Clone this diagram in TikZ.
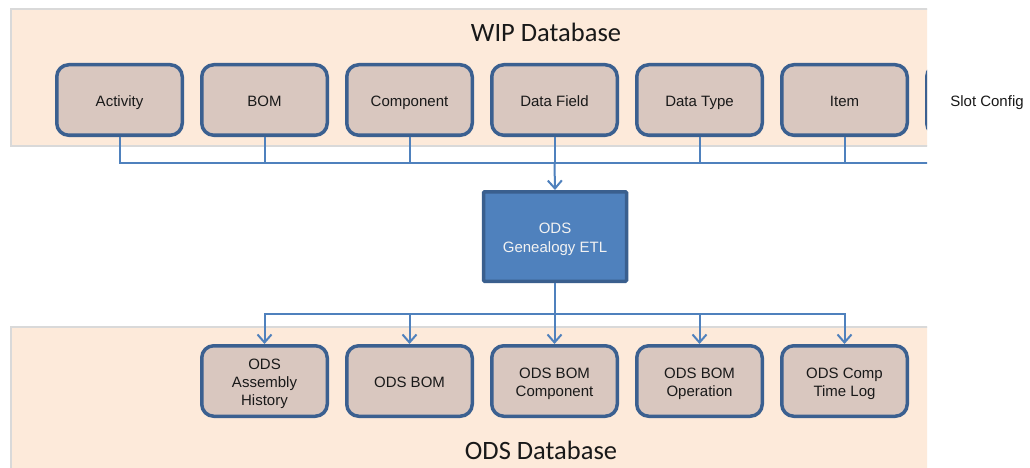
\documentclass[tikz,border=0pt]{standalone}
\usepackage{fontspec}
\setmainfont{Liberation Sans}
\newfontfamily\titlefont{Carlito}
\usetikzlibrary{arrows.meta}
\definecolor{panelfill}{HTML}{FDEADA}
\definecolor{panelline}{HTML}{D9D9D9}
\definecolor{boxfill}{HTML}{D9C7BF}
\definecolor{boxline}{HTML}{3B6090}
\definecolor{conncol}{HTML}{4F81BD}
\definecolor{etlfill}{HTML}{4F81BD}
\definecolor{etlline}{HTML}{3A5F8E}
\definecolor{etltext}{HTML}{F2F2F2}
\newcommand\mytopstrut{\rule{0pt}{16.5pt}}
\newcommand\mybotstrut{\rule[-3.5pt]{0pt}{3.5pt}}
\tikzset{
  struts/.style={execute at begin node={\mytopstrut},
    execute at end node={\mybotstrut}},
  dbbox/.style={draw=boxline, line width=3.5pt, fill=boxfill, rounded corners=12pt,
    minimum width=125.5pt, minimum height=70.5pt, inner sep=0pt, align=center,
    font=\fontsize{15}{18}\selectfont, text=black!90},
  etlbox/.style={draw=etlline, line width=3.5pt, fill=etlfill, rounded corners=1pt,
    minimum width=143pt, minimum height=89.5pt, inner sep=0pt, align=center,
    font=\fontsize{15}{19}\selectfont, text=etltext},
  plain/.style={inner sep=0pt, font=\fontsize{15}{18}\selectfont, text=black!90, struts},
  title/.style={inner sep=0pt, font=\titlefont\fontsize{26.5}{30}\selectfont, text=black!90},
  conn/.style={draw=conncol, line width=2pt},
  arr/.style={conn, -{Straight Barb[length=8pt, width=14pt, line width=2pt]}},
  panel/.style={fill=panelfill, draw=panelline, line width=2.5pt}
}
\begin{document}
\begin{tikzpicture}[x=1pt, y=-1pt]
\useasboundingbox[fill=white] (0,0) rectangle (1030,468);
\begin{scope}
\clip (0,0) rectangle (927,468);
\path[panel] (11,9) rectangle (945,146);
\path[panel] (11,327) rectangle (945,480);
\node[dbbox] (slotbox) at (989.5,100) {};
\coordinate (busend) at (927,163);
\draw[conn] (slotbox.south) |- (busend);
\end{scope}
\node[title] (wip) at (546,32) {WIP Database};
\node[title] (ods) at (541,450) {ODS Database};
\node[plain] (slot) at (987,100) {Slot Config};
% top boxes
\node[dbbox] (act) at (119.5,100) {\mytopstrut Activity\mybotstrut};
\node[dbbox] (bom) at (264.5,100) {\mytopstrut BOM\mybotstrut};
\node[dbbox] (comp) at (409.5,100) {\mytopstrut Component\mybotstrut};
\node[dbbox] (df) at (554.5,100) {\mytopstrut Data Field\mybotstrut};
\node[dbbox] (dt) at (699.5,100) {\mytopstrut Data Type\mybotstrut};
\node[dbbox] (item) at (844.5,100) {\mytopstrut Item\mybotstrut};
% ETL
\node[etlbox] (etl) at (555,236.5) {\mytopstrut ODS\\Genealogy ETL\mybotstrut};
% bottom boxes
\node[dbbox] (oah) at (264.5,381) {\mytopstrut ODS\\Assembly\\History\mybotstrut};
\node[dbbox] (obom) at (409.5,381) {\mytopstrut ODS BOM\mybotstrut};
\node[dbbox] (obc) at (554.5,381) {\mytopstrut ODS BOM\\Component\mybotstrut};
\node[dbbox] (obo) at (699.5,381) {\mytopstrut ODS BOM\\Operation\mybotstrut};
\node[dbbox] (oct) at (844.5,381) {\mytopstrut ODS Comp\\Time Log\mybotstrut};
% top bus
\foreach \b in {act,bom,comp,df,dt,item}
  \draw[conn] (\b.south) |- (busend);
\draw[arr] (df.south |- busend) -- (etl.north);
% bottom bus
\coordinate (bbus) at (554.5,314);
\draw[conn] (etl.south) -- (etl.south |- bbus);
\foreach \b in {oah,obom,obc,obo,oct}
  \draw[arr] (etl.south |- bbus) -| (\b.north);
\end{tikzpicture}
\end{document}
